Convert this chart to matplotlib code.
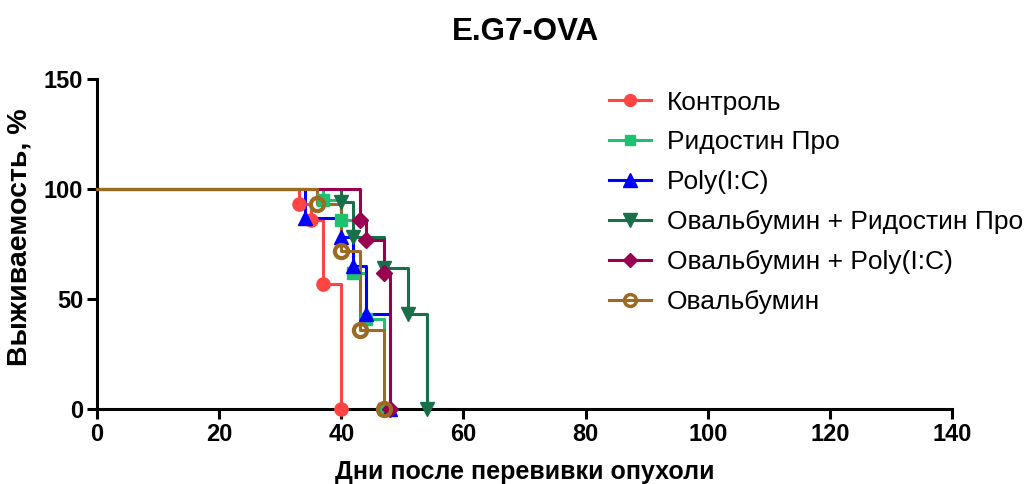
import matplotlib
matplotlib.use("Agg")
import matplotlib.pyplot as plt
from matplotlib.lines import Line2D

plt.rcParams['font.family'] = ['Liberation Sans', 'DejaVu Sans']

title = "E.G7-OVA"
xlabel = "Дни после перевивки опухоли"
ylabel = "Выживаемость, %"
labels = ["Контроль", "Ридостин Про", "Poly(I:C)",
          "Овальбумин + Ридостин Про", "Овальбумин + Poly(I:C)", "Овальбумин"]

days_control = [0, 33, 35, 37, 40]
surv_control = [100, 93, 86, 57, 0]
days_ridostin = [0, 37, 40, 42, 44, 47]
surv_ridostin = [100, 95, 86, 62, 41, 0]
days_poly = [0, 34, 40, 42, 44, 48]
surv_poly = [100, 87, 78, 65, 43, 0]
days_ova_rid = [0, 40, 42, 47, 51, 54]
surv_ova_rid = [100, 94, 78, 64, 43, 0]
days_ova_poly = [0, 43, 44, 47, 48]
surv_ova_poly = [100, 86, 77, 62, 0]
days_ova = [0, 36, 40, 43, 47]
surv_ova = [100, 93, 72, 36, 0]

xticks = [0, 20, 40, 60, 80, 100, 120, 140]
yticks = [0, 50, 100, 150]

series = [
    (days_control, surv_control, "#ff4444", "o", True),
    (days_ridostin, surv_ridostin, "#1fc06e", "s", True),
    (days_poly, surv_poly, "#0000ff", "^", True),
    (days_ova_rid, surv_ova_rid, "#17704a", "v", True),
    (days_ova_poly, surv_ova_poly, "#990050", "D", True),
    (days_ova, surv_ova, "#9c6a22", "o", False),
]

fig = plt.figure(figsize=(10.25, 4.84), dpi=100)
ax = fig.add_axes([97/1025, 75/484, 855/1025, 330/484])

handles = []
for (d, s, c, m, filled), lab in zip(series, labels):
    ax.step(d, s, where='post', color=c, lw=2.2, clip_on=False, zorder=3)
    ms = 9.5
    if m == 'D':
        ms = 8
    if m == 's':
        ms = 8.5
    if m in ('^', 'v'):
        ms = 10.5
    if filled:
        ax.plot(d[1:], s[1:], ls='none', marker=m, color=c, ms=ms, clip_on=False, zorder=4)
        h = Line2D([], [], color=c, lw=2.2, marker=m, ms=ms * 0.9)
    else:
        ax.plot(d[1:], s[1:], ls='none', marker=m, mfc='none', mec=c, mew=3, ms=ms, clip_on=False, zorder=4)
        h = Line2D([], [], color=c, lw=2.2, marker=m, mfc='none', mec=c, mew=2.5, ms=ms * 0.9)
    handles.append(h)

ax.set_xlim(0, 140)
ax.set_ylim(0, 150)
ax.set_xticks(xticks)
ax.set_yticks(yticks)
for sp in ['top', 'right']:
    ax.spines[sp].set_visible(False)
for sp in ['left', 'bottom']:
    ax.spines[sp].set_linewidth(2.2)
ax.tick_params(direction='out', width=2.2, length=7, labelsize=17, pad=3)
for t in ax.get_xticklabels() + ax.get_yticklabels():
    t.set_fontweight('bold')

ax.set_xlabel(xlabel, fontsize=18, fontweight='bold', labelpad=10)
ax.set_ylabel(ylabel, fontsize=20.5, fontweight='bold')
ax.yaxis.set_label_coords(-0.075, 0.521)
fig.text(526/1025, 1 - 32/484, title, ha='center', va='center', fontsize=22.5, fontweight='bold')

fig.legend(handles, labels, loc='upper left', bbox_to_anchor=(598/1025, 1 - 80/484),
           frameon=False, fontsize=19, handlelength=1.6, handletextpad=0.6,
           labelspacing=0.6, borderaxespad=0)

fig.savefig("out.png", dpi=100)
